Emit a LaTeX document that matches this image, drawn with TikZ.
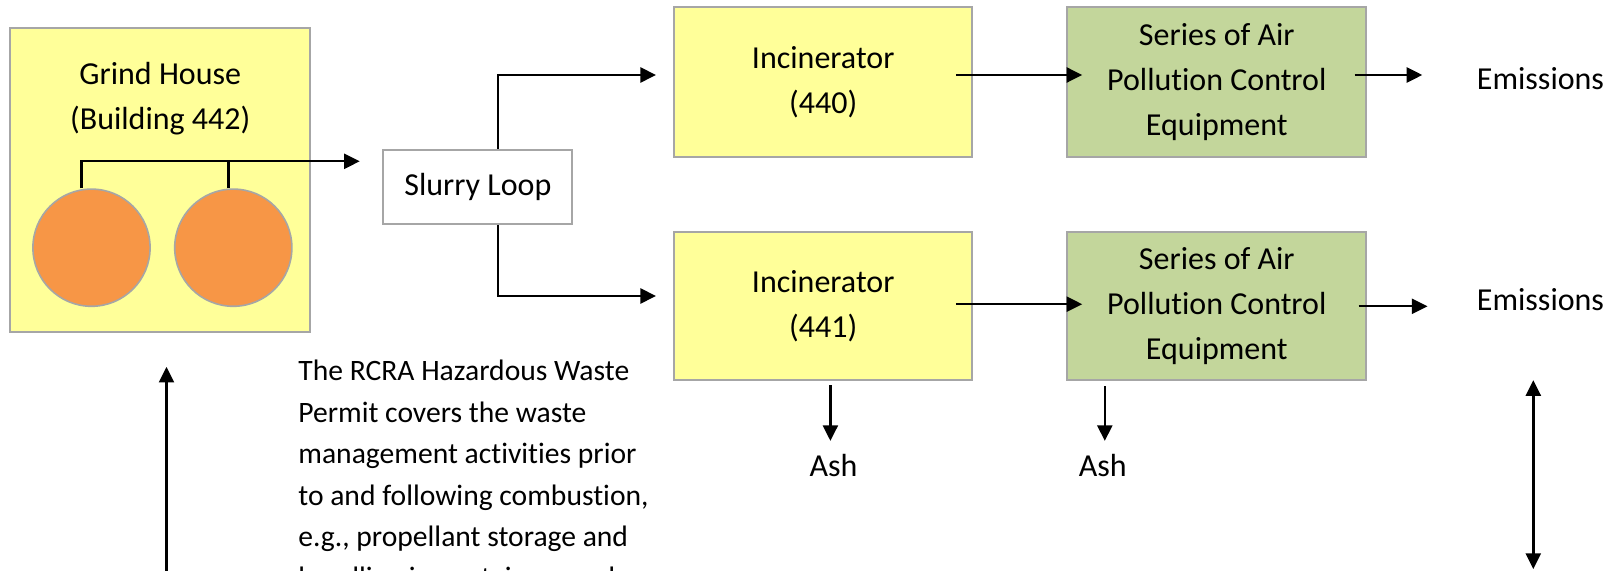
\documentclass[tikz,border=0pt]{standalone}
\usepackage{fontspec}
\setmainfont{Carlito}[Ligatures=NoCommon]
\usetikzlibrary{arrows.meta}
\definecolor{jaune}{HTML}{FFFF99}
\definecolor{vert}{HTML}{C3D69B}
\definecolor{orangeclair}{HTML}{F79646}

\begin{document}
\begin{tikzpicture}[x=0.5pt, y=-0.5pt]
\tikzset{boite/.style={draw=gray!70, line width=1pt, align=center, inner sep=0pt, font=\fontsize{16}{22.6}\selectfont},
cercle/.style={draw=gray!70, line width=0.8pt, circle, fill=orangeclair, minimum size=58.6pt, inner sep=0pt},
texte/.style={align=center, inner sep=0pt, font=\fontsize{16}{22.6}\selectfont},
fleche/.style={line width=1.2pt, -{Triangle[length=7.8pt, width=7.5pt]}}}
\clip (0, 0) rectangle (1611, 571);
\fill[white] (0, 0) rectangle (1611, 571);
% grind house
\node[boite, fill=jaune, minimum width=150pt, minimum height=152pt] (GH) at (160.3, 179.9) {};
\node[texte] (GHt) at (160.3, 99) {Grind House\\(Building 442)};
\node[cercle] (C1) at (91.5, 247.7) {};
\node[cercle] (C2) at (233.3, 247.7) {};
\coordinate (Gout) at (359.7, 161.3);
\draw[fleche] ([xshift=-5pt]C1.north) |- (Gout);
\draw[line width=1.2pt] ([xshift=-2.5pt]C2.north) -- ([xshift=-2.5pt]C2.north |- Gout);
% slurry loop
\node[boite, fill=white, minimum width=94.5pt, minimum height=37pt] (SL) at (477.9, 187) {Slurry Loop};
\node[boite, fill=jaune, minimum width=149pt, minimum height=75pt] (I1) at (823.2, 82.2) {Incinerator\\(440)};
\node[boite, fill=jaune, minimum width=149pt, minimum height=74pt] (I2) at (823.2, 306.3) {Incinerator\\(441)};
\node[boite, fill=vert, minimum width=149.5pt, minimum height=75pt] (A1) at (1216.8, 82.2) {Series of Air\\Pollution Control\\Equipment};
\node[boite, fill=vert, minimum width=149.5pt, minimum height=74pt] (A2) at (1216.8, 306.3) {Series of Air\\Pollution Control\\Equipment};
\coordinate (I1in) at (656, 75);
\coordinate (I2in) at (656, 296);
\draw[fleche] ([xshift=10pt]SL.north) |- (I1in);
\draw[fleche] ([xshift=10pt]SL.south) |- (I2in);
% air pollution control
\coordinate (I1out) at (955.8, 75);
\coordinate (A1in) at (1082.2, 75);
\coordinate (I2out) at (955.8, 304.2);
\coordinate (A2in) at (1082.2, 304.2);
\draw[fleche] (I1out) -- (A1in);
\draw[fleche] (I2out) -- (A2in);
% emissions
\node[texte] (E1) at (1540.5, 79.1) {Emissions};
\node[texte] (E2) at (1540.5, 300.1) {Emissions};
\coordinate (A1out) at (1354.5, 75);
\coordinate (E1in) at (1422.3, 75);
\coordinate (A2out) at (1358.6, 306.3);
\coordinate (E2in) at (1427.5, 306.3);
\draw[fleche] (A1out) -- (E1in);
\draw[fleche] (A2out) -- (E2in);
% ash
\node[texte] (Ash1) at (833.5, 465.5) {Ash};
\node[texte] (Ash2) at (1102.7, 465.5) {Ash};
\coordinate (I2bas) at (830.4, 385.4);
\coordinate (Ash1in) at (830.4, 440.9);
\coordinate (A2bas) at (1104.8, 386.4);
\coordinate (Ash2in) at (1104.8, 440.9);
\draw[fleche] (I2bas) -- (Ash1in);
\draw[fleche] (A2bas) -- (Ash2in);
% permit
\node[texte, align=left, anchor=north west, font=\fontsize{14.8}{20.7}\selectfont] (permis) at (298, 360)
{The RCRA Hazardous Waste\\Permit covers the waste\\management activities prior\\to and following combustion,\\e.g., propellant storage and\\handling in containers and};
\coordinate (gbas) at (166.5, 600);
\coordinate (ghaut) at (166.5, 366.9);
\draw[fleche] (gbas) -- (ghaut);
\coordinate (dhaut) at (1533.3, 380.2);
\coordinate (dbas) at (1533.3, 569);
\draw[line width=1.2pt, {Triangle[length=7.8pt, width=7.5pt]}-{Triangle[length=7.8pt, width=7.5pt]}] (dhaut) -- (dbas);
\end{tikzpicture}
\end{document}
